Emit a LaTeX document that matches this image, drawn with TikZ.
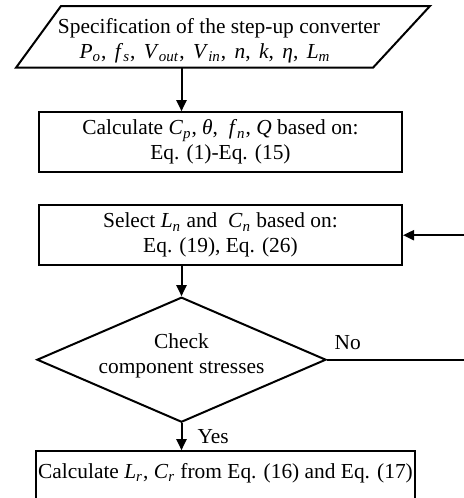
\documentclass[tikz,border=0pt]{standalone}
\usepackage{fontspec}
\setmainfont{Liberation Serif}
\usetikzlibrary{shapes.geometric, arrows.meta, positioning}
\newcommand{\vsub}[2]{\textit{#1}\textsubscript{\textit{#2}}}

\begin{document}
\begin{tikzpicture}[
    x=0.5pt, y=0.5pt,
    font=\fontsize{10.7}{12.5}\selectfont,
    io/.style={rectangle, minimum width=207pt, minimum height=30.85pt,
               inner sep=0pt, outer sep=0pt, align=center},
    proc/.style={rectangle, draw, line width=1pt, minimum width=181.5pt,
                 minimum height=30pt, inner sep=1pt, align=center},
    decision/.style={diamond, draw, line width=1pt, shape aspect=2.35,
                     minimum width=143pt, minimum height=62.5pt, inner sep=0pt, align=center},
    arr/.style={-{Triangle[length=5.5pt, width=5pt]}, line width=1pt},
    lbl/.style={inner sep=0pt}
]
\useasboundingbox (0,0) rectangle (463,-498);

% Input
\node[io] (spec) at (223,-36.85) {\rule{0pt}{11.3pt}\hspace*{-4pt}Specification of the step-up converter\\
    {\spaceskip=4.2pt plus 1pt \vsub{P}{o}, \vsub{f}{s}, \vsub{V}{out}, \vsub{V}{in}, \textit{n}, \textit{k}, \textit{η}, \vsub{L}{m}}\hspace*{18pt}};
\draw[line width=1pt] ([xshift=22.5pt]spec.north west) -- (spec.north east)
    -- ([xshift=-28.5pt]spec.south east) -- (spec.south west) -- cycle;

% Steps
\node[proc, below=21.75pt of spec, xshift=-1.25pt] (calc) {Calculate \vsub{C}{p}, \textit{θ},\ \ \vsub{f}{n}, \textit{Q} based on:\\ Eq. (1)-Eq. (15)};
\node[proc, below=15.5pt of calc] (sel) {Select \vsub{L}{n} and\ \ \vsub{C}{n} based on:\\ Eq. (19), Eq. (26)};

% Check
\node[decision, below=15pt of sel, xshift=-19.5pt] (chk) {Check\\ component stresses\rule[-6.3pt]{0pt}{0pt}};

% Result
\node[proc, below=13.5pt of chk, xshift=22pt, minimum width=187.5pt, minimum height=0pt,
      text height=7.5pt, text depth=14pt, inner ysep=6pt] (res) {Calculate \vsub{L}{r}, \vsub{C}{r} from Eq. (16) and Eq. (17)};

\coordinate[right=73pt of chk.east] (back);

% Arrows
\draw[arr] (spec.south -| chk.north) -- (calc.north -| chk.north);
\draw[arr] (sel.south -| chk.north) -- (chk.north);
\draw[arr] (chk.south) -- node[right, lbl, xshift=7.5pt]{Yes} (res.north -| chk.south);
\draw[arr] (chk.east) -- node[pos=0, above right, lbl, xshift=3.3pt, yshift=4.5pt]{No} (back) |- (sel.east);

\end{tikzpicture}
\end{document}
